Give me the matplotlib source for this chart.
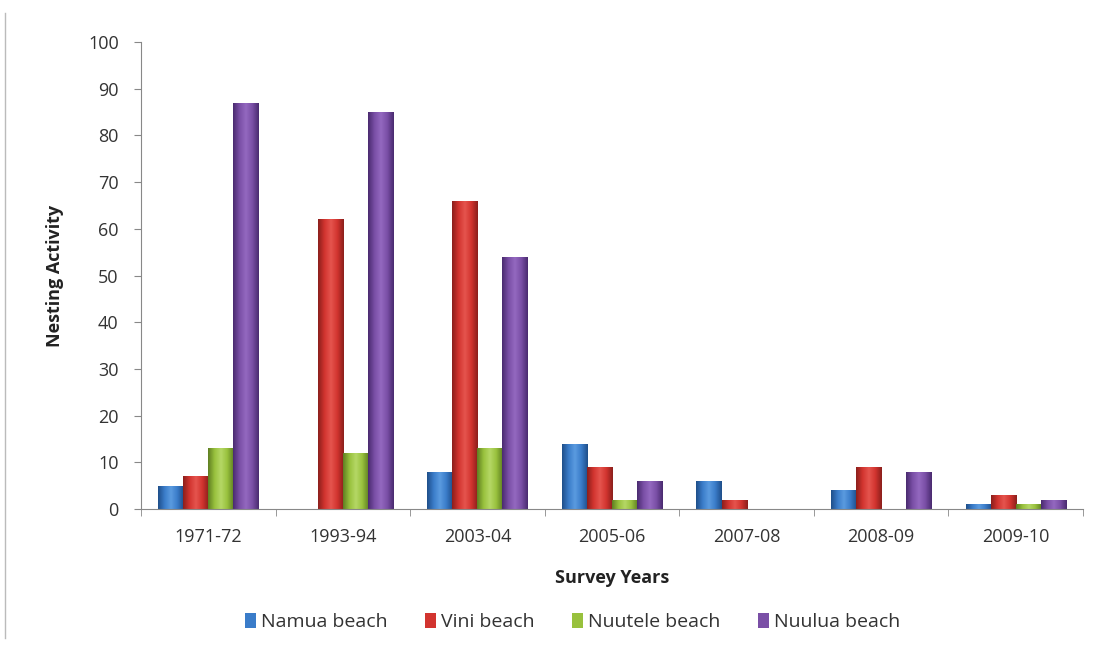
import numpy as np
import matplotlib.pyplot as plt
from matplotlib.lines import Line2D
from matplotlib.colors import LinearSegmentedColormap

years = ['1971-72', '1993-94', '2003-04', '2005-06', '2007-08', '2008-09', '2009-10']
namua = [5, 0, 8, 14, 6, 4, 1]
vini = [7, 62, 66, 9, 2, 9, 3]
nuutele = [13, 12, 13, 2, 0, 0, 1]
nuulua = [87, 85, 54, 6, 0, 8, 2]

# name, values, (dark edge, main, highlight)
series = [('Namua beach', namua, ('#1f4f8a', '#3a7cc9', '#5b9be0')),
          ('Vini beach', vini, ('#8c1f1c', '#d2342f', '#e5544e')),
          ('Nuutele beach', nuutele, ('#5f7f22', '#98c13d', '#b5d866')),
          ('Nuulua beach', nuulua, ('#4a2b70', '#7a4fa6', '#9469c0'))]

plt.rcParams['font.family'] = ['Open Sans', 'DejaVu Sans']

fig = plt.figure(figsize=(10.97, 6.58), dpi=100)
ax = fig.add_axes([0.1285, 0.2264, 0.8587, 0.7097])

x = np.arange(len(years))
w = 0.186
grad = np.linspace(0, 1, 64).reshape(1, -1)
for i, (name, vals, (dark, main, light)) in enumerate(series):
    cmap = LinearSegmentedColormap.from_list(name, [dark, main, light, main, dark])
    bars = ax.bar(x + (i - 1.5) * w, vals, w, color=main, edgecolor='none', label=name)
    # cylinder-like shading across each bar
    for b in bars:
        if b.get_height() <= 0:
            continue
        im = ax.imshow(grad, cmap=cmap, aspect='auto', interpolation='bilinear',
                       extent=[b.get_x(), b.get_x() + b.get_width(), 0, b.get_height()],
                       zorder=b.get_zorder())
        im.set_clip_path(b)

ax.set_xlim(-0.5, len(years) - 0.5)
ax.set_ylim(0, 100)
ax.set_yticks(range(0, 101, 10))
ax.set_xticks(x)
ax.set_xticklabels(years)
ax.set_xticks(np.arange(-0.5, len(years)), minor=True)
ax.tick_params(axis='x', which='major', length=0, labelsize=13, pad=14, labelcolor='#333333')
ax.tick_params(axis='x', which='minor', length=5, color='#888888')
ax.tick_params(axis='y', length=5, color='#888888', labelsize=13, pad=11, labelcolor='#333333')

for s in ['top', 'right']:
    ax.spines[s].set_visible(False)
ax.spines['left'].set_color('#888888')
ax.spines['bottom'].set_color('#888888')

ax.set_xlabel('Survey Years', fontsize=13, fontweight='bold', color='#222222')
ax.xaxis.set_label_coords(0.5, -0.128)
ax.set_ylabel('Nesting Activity', fontsize=13, fontweight='bold', color='#222222')
ax.yaxis.set_label_coords(-0.082, 0.5)

ax.legend(loc='center', bbox_to_anchor=(0.458, -0.242), ncol=4, frameon=False,
          fontsize=14, handlelength=0.55, handleheight=0.8, handletextpad=0.25,
          columnspacing=1.95, labelcolor='#333333')

fig.add_artist(Line2D([0.005, 0.005], [0.03, 0.98], color='#bbbbbb', lw=1))

fig.savefig('out.png', dpi=100)
